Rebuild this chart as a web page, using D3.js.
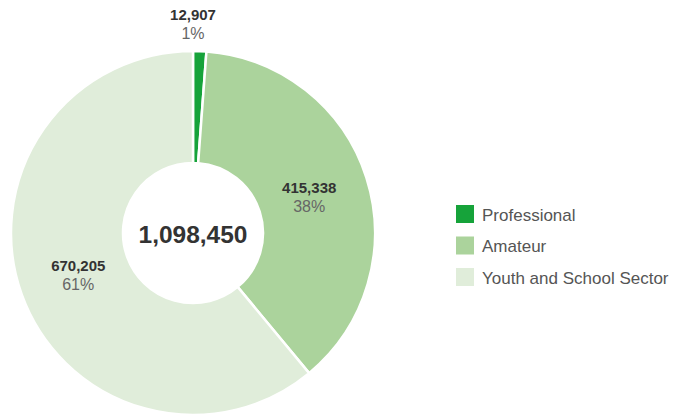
<!DOCTYPE html>
<html><head><meta charset="utf-8">
<script src="https://cdn.jsdelivr.net/npm/d3@7"></script>
<style>body{margin:0;background:#fff;}svg{display:block;font-family:"Liberation Sans",Arial,sans-serif;}</style>
</head><body>
<svg id="c" width="673" height="415"></svg>
<script>
const categories = ["Professional", "Amateur", "Youth and School Sector"];
const values = [12907, 415338, 670205];
const percentLabels = ["1%", "38%", "61%"];
const colors = ["#16a33a", "#abd39c", "#e0edda"];
const totalLabel = "1,098,450";

const svg = d3.select("#c");
const cx = 193, cy = 233, rOuter = 182, rInner = 70;
const g = svg.append("g").attr("transform", `translate(${cx},${cy})`);
const pie = d3.pie().sort(null).value(d => d)(values);
const arc = d3.arc().innerRadius(rInner).outerRadius(rOuter);
g.selectAll("path").data(pie).enter().append("path")
  .attr("d", arc).attr("fill", (d,i) => colors[i])
  .attr("stroke", "#fff").attr("stroke-width", 2.5).attr("stroke-linejoin", "miter");

const fmt = d3.format(",");
const labelArc = d3.arc().innerRadius(122).outerRadius(122);
const outerArc = d3.arc().innerRadius(210).outerRadius(210);
pie.forEach((d, i) => {
  const small = (d.endAngle - d.startAngle) < 0.2;
  const [x, y] = small ? [0, outerArc.centroid(d)[1]] : labelArc.centroid(d);
  const t = g.append("text").attr("text-anchor", "middle").attr("x", x);
  t.append("tspan").attr("x", x).attr("y", y - 3).attr("font-weight", "bold").attr("font-size", 15).attr("fill", "#333").text(fmt(values[i]));
  t.append("tspan").attr("x", x).attr("y", y + 16).attr("font-size", 16).attr("fill", "#666").text(percentLabels[i]);
});
g.append("text").attr("text-anchor", "middle").attr("y", 10).attr("font-size", 24.5).attr("font-weight", "bold").attr("fill", "#333").text(totalLabel);

const leg = svg.append("g").attr("transform", "translate(456,205)");
categories.forEach((c, i) => {
  const r = leg.append("g").attr("transform", `translate(0,${i*31.5})`);
  r.append("rect").attr("width", 18).attr("height", 18).attr("fill", colors[i]);
  r.append("text").attr("x", 26).attr("y", 15.5).attr("font-size", 17).attr("fill", "#555").text(c);
});
</script>
</body></html>
